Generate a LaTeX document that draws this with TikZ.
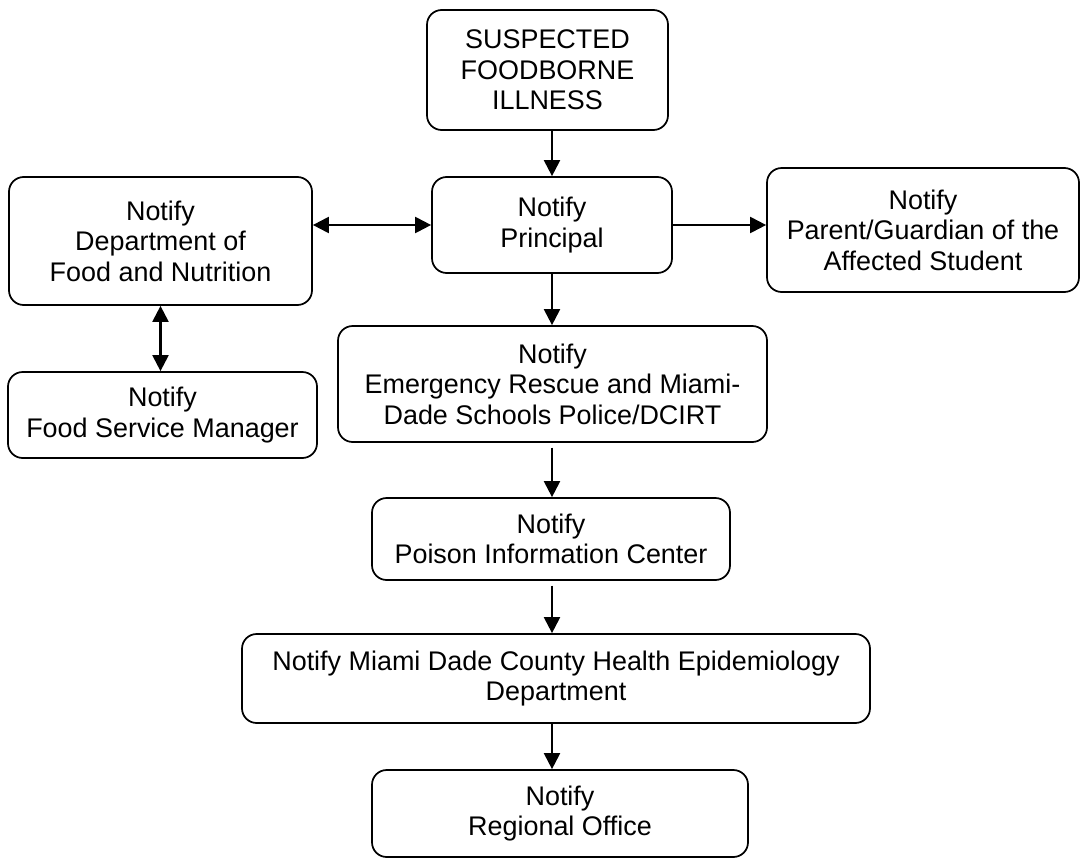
\documentclass[tikz,border=0pt]{standalone}
\usepackage{fontspec}
\setmainfont{Liberation Sans}
\usetikzlibrary{arrows.meta}
\begin{document}
\begin{tikzpicture}[x=0.75pt,y=-0.75pt,
  box/.style={draw=black, line width=1.3pt, rounded corners=11pt, align=center,
    inner sep=0pt, font=\fontsize{20.2}{22.8}\selectfont},
  arr/.style={line width=1.6pt, -{Triangle[length=12pt,width=12pt]}},
  darr/.style={line width=1.6pt, {Triangle[length=12pt,width=12pt]}-{Triangle[length=12pt,width=12pt]}}]
\useasboundingbox (0,0) rectangle (1081,860);
\node[box, minimum width=180.75pt, minimum height=90pt] (sfi) at (547.5,70) {SUSPECTED\\FOODBORNE\\ILLNESS};
\node[box, minimum width=180pt, minimum height=72pt] (prin) at (552,225) {Notify\\Principal};
\node[box, minimum width=227.25pt, minimum height=96pt] (dept) at (160.5,241) {Notify\\Department of\\Food and Nutrition};
\node[box, minimum width=234pt, minimum height=93pt] (par) at (923,230) {Notify\\Parent/Guardian of the\\Affected Student};
\node[box, minimum width=231.75pt, minimum height=64.5pt] (fsm) at (162.5,415) {Notify\\Food Service Manager};
\node[box, minimum width=321.75pt, minimum height=87pt] (emer) at (552.5,384) {Notify\\Emergency Rescue and Miami-\\Dade Schools Police/DCIRT};
\node[box, minimum width=268.5pt, minimum height=61.5pt] (pois) at (551,539) {Notify\\Poison Information Center};
\node[box, minimum width=471pt, minimum height=66.75pt] (epid) at (556,678.5) {Notify Miami Dade County Health Epidemiology\\Department};
\node[box, minimum width=282pt, minimum height=65.25pt] (reg) at (560,813.5) {Notify\\Regional Office};

\draw[arr] (sfi.south -| prin) -- (prin.north);
\draw[darr] (prin.west -| dept.east) -- (prin.west);
\draw[arr] (prin.east) -- (prin.east -| par.west);
\draw[darr] (dept.south) -- (dept.south |- fsm.north);
\draw[arr] (prin.south) -- (prin.south |- emer.north);
\draw[arr, shorten <=3.5pt] (emer.south -| prin) -- (pois.north -| prin);
\draw[arr, shorten <=3.5pt] (pois.south -| prin) -- (epid.north -| prin);
\draw[arr] (epid.south -| prin) -- (reg.north -| prin);
\end{tikzpicture}
\end{document}
